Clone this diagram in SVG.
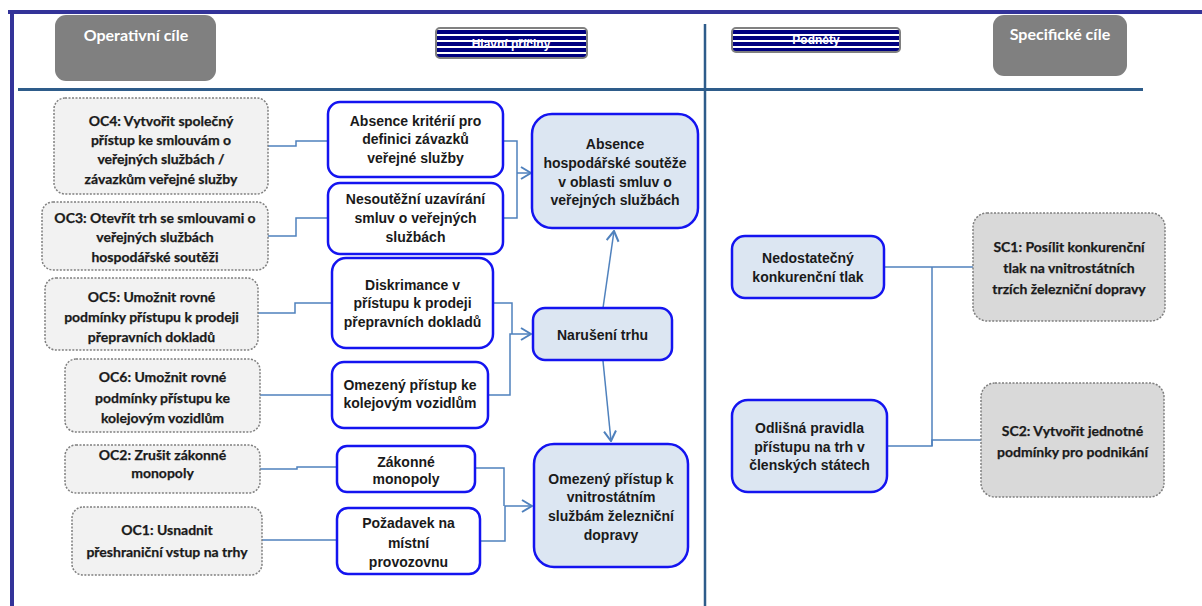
<svg xmlns="http://www.w3.org/2000/svg" width="1202" height="606" viewBox="0 0 1202 606">
<defs>
<style>
.oc{fill:#F2F2F2;stroke:#7F7F7F;stroke-width:1.5;stroke-dasharray:2 1.5}
.sc{fill:#D9D9D9;stroke:#7F7F7F;stroke-width:1.5;stroke-dasharray:2 1.5}
.cause{fill:#FFFFFF;stroke:#1414F0;stroke-width:2.5}
.prob{fill:#DCE6F2;stroke:#1414F0;stroke-width:2.5}
.hdr{fill:#808080}
.strip{fill:url(#stripes);stroke:#808080;stroke-width:2}
.t1{font-family:Lato,"Open Sans","Liberation Sans",sans-serif;font-weight:bold;font-size:14px;fill:#1A1A1A;text-anchor:middle;stroke:#1A1A1A;stroke-width:0.25}
.t2{font-family:"Liberation Sans",Arial,sans-serif;font-weight:bold;font-size:14px;fill:#1A1A1A;text-anchor:middle}
.th{font-family:Lato,"Open Sans","Liberation Sans",sans-serif;font-weight:bold;font-size:16px;fill:#FFFFFF;text-anchor:middle}
.ts{font-family:"Liberation Sans",Arial,sans-serif;font-weight:bold;font-size:12px;fill:#FFFFFF;text-anchor:middle}
.con{fill:none;stroke:#4F81BD;stroke-width:1.5}
.arr{marker-end:url(#ah)}
</style>
<pattern id="stripes" patternUnits="userSpaceOnUse" width="10" height="6">
<rect x="0" y="0" width="10" height="6" fill="#FFFFFF"/>
<rect x="0" y="0" width="10" height="4" fill="#000080"/>
</pattern>
<marker id="ah" viewBox="0 0 12 14" refX="11" refY="7" markerWidth="12" markerHeight="14" markerUnits="userSpaceOnUse" orient="auto">
<path d="M1,1 L11,7 L1,13" fill="none" stroke="#4F81BD" stroke-width="2"/>
</marker>
</defs>

<g id="frame">
<line x1="8" y1="12" x2="1202" y2="12" stroke="#333399" stroke-width="4"/>
<line x1="12" y1="10" x2="12" y2="606" stroke="#333399" stroke-width="4"/>
<line x1="18" y1="89.5" x2="1143" y2="89.5" stroke="#2E5C8A" stroke-width="3"/>
<line x1="705" y1="24" x2="705" y2="606" stroke="#2E5C8A" stroke-width="2.5"/>
</g>

<g id="hdr-operativni">
<rect class="hdr" x="55" y="15" width="161" height="66" rx="11"/>
<text class="th" x="136" y="41">Operativní cíle</text>
</g>
<g id="hdr-hlavni">
<rect class="strip" x="436" y="28" width="151" height="30" rx="4"/>
<text class="ts" x="511" y="48">Hlavní příčiny</text>
</g>
<g id="hdr-podnety">
<rect class="strip" x="732" y="28" width="168" height="24" rx="4"/>
<text class="ts" x="816" y="44">Podněty</text>
</g>
<g id="hdr-specificke">
<rect class="hdr" x="993" y="15" width="134" height="61" rx="11"/>
<text class="th" x="1060" y="40">Specifické cíle</text>
</g>

<g id="connectors">
<polyline class="con" points="268,146 296,146 296,141 328,141"/>
<polyline class="con" points="267,236 296,236 296,218 328,218"/>
<polyline class="con" points="258,313 295,313 295,303 332,303"/>
<polyline class="con" points="260,395 332,395"/>
<polyline class="con" points="260,469 297,469 297,467 337,467"/>
<polyline class="con" points="262,540 337,540"/>
<polyline class="con" points="503,141 517,141 517,218 503,218"/>
<polyline class="con arr" points="517,173 531,173"/>
<polyline class="con" points="493,303 512,303 512,334"/>
<polyline class="con arr" points="488,395 510,395 510,334 531,334"/>
<polyline class="con" points="475,468 504,468 504,506"/>
<polyline class="con arr" points="480,541 505,541 505,506 532,506"/>
<line class="con arr" x1="603" y1="308" x2="614" y2="231"/>
<line class="con arr" x1="603" y1="361" x2="611" y2="441"/>
<polyline class="con" points="884,267 973,267"/>
<polyline class="con" points="887,446 932,446 932,440 981,440"/>
<line class="con" x1="932" y1="267" x2="932" y2="446"/>
</g>

<g id="oc4">
<rect class="oc" x="54" y="98" width="214" height="96" rx="11"/>
<text class="t1" x="161" y="126">OC4: Vytvořit společný</text>
<text class="t1" x="161" y="145">přístup ke smlouvám o</text>
<text class="t1" x="161" y="164">veřejných službách /</text>
<text class="t1" x="161" y="184">závazkům veřejné služby</text>
</g>
<g id="oc3">
<rect class="oc" x="42" y="202" width="226" height="68" rx="11"/>
<text class="t1" x="155" y="223">OC3: Otevřít trh se smlouvami o</text>
<text class="t1" x="155" y="242">veřejných službách</text>
<text class="t1" x="155" y="262">hospodářské soutěži</text>
</g>
<g id="oc5">
<rect class="oc" x="45" y="278" width="213" height="72" rx="11"/>
<text class="t1" x="151.5" y="302">OC5: Umožnit rovné</text>
<text class="t1" x="151.5" y="322">podmínky přístupu k prodeji</text>
<text class="t1" x="151.5" y="342">přepravních dokladů</text>
</g>
<g id="oc6">
<rect class="oc" x="65" y="359" width="195" height="73" rx="11"/>
<text class="t1" x="162.5" y="382">OC6: Umožnit rovné</text>
<text class="t1" x="162.5" y="403">podmínky přístupu ke</text>
<text class="t1" x="162.5" y="423">kolejovým vozidlům</text>
</g>
<g id="oc2">
<rect class="oc" x="65" y="445" width="195" height="48" rx="11"/>
<text class="t1" x="162.5" y="460">OC2: Zrušit zákonné</text>
<text class="t1" x="162.5" y="478">monopoly</text>
</g>
<g id="oc1">
<rect class="oc" x="72" y="507" width="190" height="68" rx="11"/>
<text class="t1" x="167" y="535">OC1: Usnadnit</text>
<text class="t1" x="167" y="557">přeshraniční vstup na trhy</text>
</g>

<g id="cause-kriteria">
<rect class="cause" x="328" y="102" width="175" height="75" rx="12"/>
<text class="t2" x="415.5" y="126">Absence kritérií pro</text>
<text class="t2" x="415.5" y="144">definici závazků</text>
<text class="t2" x="415.5" y="163">veřejné služby</text>
</g>
<g id="cause-nesoutezni">
<rect class="cause" x="328" y="183" width="175" height="71" rx="12"/>
<text class="t2" x="415.5" y="204">Nesoutěžní uzavírání</text>
<text class="t2" x="415.5" y="223">smluv o veřejných</text>
<text class="t2" x="415.5" y="242">službách</text>
</g>
<g id="cause-diskrimance">
<rect class="cause" x="332" y="258" width="161" height="90" rx="14"/>
<text class="t2" x="412.5" y="290">Diskrimance v</text>
<text class="t2" x="412.5" y="308">přístupu k prodeji</text>
<text class="t2" x="412.5" y="327">přepravních dokladů</text>
</g>
<g id="cause-vozidla">
<rect class="cause" x="332" y="362" width="156" height="66" rx="12"/>
<text class="t2" x="410" y="390">Omezený přístup ke</text>
<text class="t2" x="410" y="408">kolejovým vozidlům</text>
</g>
<g id="cause-monopoly">
<rect class="cause" x="337" y="446" width="138" height="46" rx="10"/>
<text class="t2" x="406" y="467">Zákonné</text>
<text class="t2" x="406" y="484">monopoly</text>
</g>
<g id="cause-provozovna">
<rect class="cause" x="337" y="508" width="143" height="66" rx="11"/>
<text class="t2" x="408.5" y="528">Požadavek na</text>
<text class="t2" x="408.5" y="548">místní</text>
<text class="t2" x="408.5" y="567">provozovnu</text>
</g>

<g id="prob-soutez">
<rect class="prob" x="532" y="114" width="166" height="114" rx="20"/>
<text class="t2" x="615" y="149">Absence</text>
<text class="t2" x="615" y="168">hospodářské soutěže</text>
<text class="t2" x="615" y="187">v oblasti smluv o</text>
<text class="t2" x="615" y="205">veřejných službách</text>
</g>
<g id="prob-naruseni">
<rect class="prob" x="533" y="308" width="139" height="52" rx="12"/>
<text class="t2" x="602.5" y="340">Narušení trhu</text>
</g>
<g id="prob-pristup">
<rect class="prob" x="534" y="444" width="154" height="123" rx="20"/>
<text class="t2" x="611" y="484">Omezený přístup k</text>
<text class="t2" x="611" y="502">vnitrostátním</text>
<text class="t2" x="611" y="521">službám železniční</text>
<text class="t2" x="611" y="540">dopravy</text>
</g>

<g id="podnet-tlak">
<rect class="prob" x="732" y="236" width="152" height="62" rx="13"/>
<text class="t2" x="808" y="263">Nedostatečný</text>
<text class="t2" x="808" y="282">konkurenční tlak</text>
</g>
<g id="podnet-pravidla">
<rect class="prob" x="732" y="400" width="155" height="92" rx="16"/>
<text class="t2" x="809.5" y="433">Odlišná pravidla</text>
<text class="t2" x="809.5" y="452">přístupu na trh v</text>
<text class="t2" x="809.5" y="470">členských státech</text>
</g>

<g id="sc1">
<rect class="sc" x="973" y="213" width="192" height="108" rx="14"/>
<text class="t1" x="1069" y="252">SC1: Posílit konkurenční</text>
<text class="t1" x="1069" y="273">tlak na vnitrostátních</text>
<text class="t1" x="1069" y="294">trzích železniční dopravy</text>
</g>
<g id="sc2">
<rect class="sc" x="981" y="383" width="183" height="114" rx="14"/>
<text class="t1" x="1072.5" y="436">SC2: Vytvořit jednotné</text>
<text class="t1" x="1072.5" y="457">podmínky pro podnikání</text>
</g>
</svg>
